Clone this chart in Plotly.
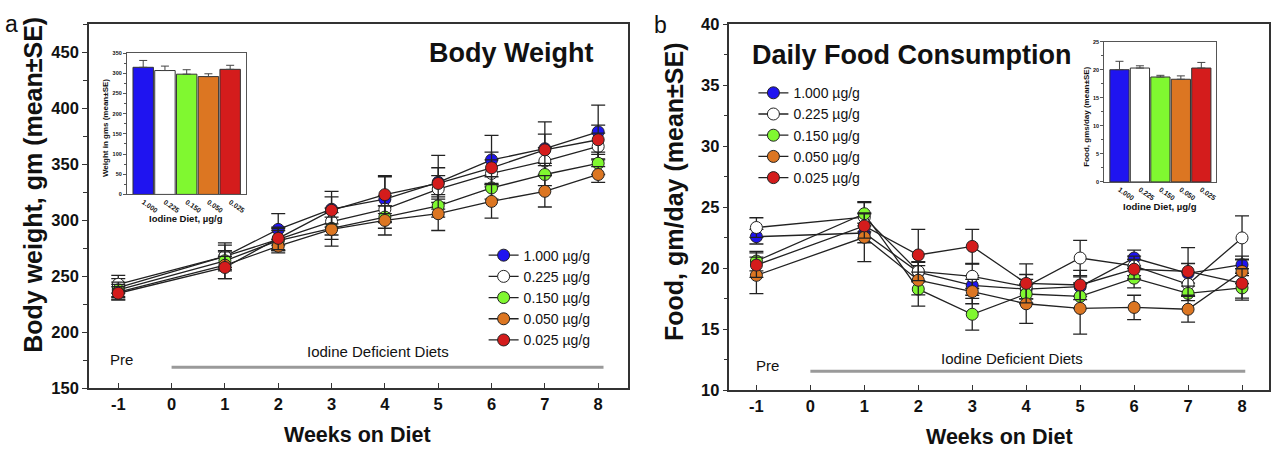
import plotly.graph_objects as go

weeks = [-1, 1, 2, 3, 4, 5, 6, 7, 8]
week_ticks = [-1, 0, 1, 2, 3, 4, 5, 6, 7, 8]
week_labels = ["-1", "0", "1", "2", "3", "4", "5", "6", "7", "8"]
doses = ["1.000 µg/g", "0.225 µg/g", "0.150 µg/g", "0.050 µg/g", "0.025 µg/g"]
dose_ticks = ["1.000", "0.225", "0.150", "0.050", "0.025"]
colors = ["#1f14f0", "#ffffff", "#80f830", "#dc7622", "#d41c1c"]

# Body weight (gm), mean and SE
bw_blue = [240, 268, 292, 310, 319, 334, 354, 364, 379]
bw_white = [243, 268, 283, 299, 310, 328, 342, 353, 366]
bw_green = [238, 264, 282, 293, 303, 313, 329, 341, 351]
bw_orange = [236, 260, 277, 292, 300, 306, 317, 326, 341]
bw_red = [235, 258, 284, 309, 323, 333, 347, 363, 372]
bw_se_blue = [8, 12, 14, 16, 20, 24, 22, 24, 24]
bw_se_white = [8, 10, 10, 12, 12, 12, 12, 12, 12]
bw_se_green = [7, 9, 9, 10, 10, 10, 10, 10, 10]
bw_se_orange = [7, 12, 6, 15, 13, 15, 15, 14, 7]
bw_se_red = [6, 10, 10, 12, 17, 14, 14, 14, 13]

# Daily food consumption (gm/day), mean and SE
fd_blue = [22.6, 22.9, 19.7, 18.6, 18.3, 18.5, 20.85, 19.6, 20.3]
fd_white = [23.35, 24.2, 19.75, 19.35, 18.5, 20.85, 20.2, 18.7, 22.5]
fd_green = [20.6, 24.48, 18.3, 16.24, 17.9, 17.7, 19.2, 17.95, 18.4]
fd_orange = [19.43, 22.55, 19.03, 18.1, 17.1, 16.72, 16.8, 16.65, 19.75]
fd_red = [20.27, 23.48, 21.1, 21.8, 18.77, 18.64, 19.93, 19.75, 18.77]
fd_se_blue = [0.6, 0.8, 0.8, 0.8, 0.8, 0.8, 0.65, 0.8, 0.7]
fd_se_white = [0.8, 1.2, 0.8, 1.0, 1.0, 1.45, 0.8, 1.0, 1.8]
fd_se_green = [0.8, 1.0, 1.4, 1.3, 0.8, 1.0, 0.8, 0.6, 1.0]
fd_se_orange = [1.5, 2.0, 1.2, 1.0, 1.6, 2.1, 1.0, 1.05, 1.0]
fd_se_red = [1.0, 1.0, 2.1, 1.4, 1.6, 1.2, 0.8, 1.95, 1.2]

# Inset bars: overall means
inset_bw = [315, 307, 298, 292, 310]
inset_bw_se = [17, 11, 11, 7, 10]
inset_fd = [20.0, 20.3, 18.7, 18.3, 20.3]
inset_fd_se = [1.5, 0.4, 0.3, 0.6, 1.0]

FONT = "Liberation Sans, Arial, sans-serif"
W, H = 1274, 458

def px(x):
    return x / W

def py(y):
    return 1 - y / H

fig = go.Figure()

bw_means = [bw_blue, bw_white, bw_green, bw_orange, bw_red]
bw_ses = [bw_se_blue, bw_se_white, bw_se_green, bw_se_orange, bw_se_red]
fd_means = [fd_blue, fd_white, fd_green, fd_orange, fd_red]
fd_ses = [fd_se_blue, fd_se_white, fd_se_green, fd_se_orange, fd_se_red]

for i in range(5):
    fig.add_trace(go.Scatter(
        x=weeks, y=bw_means[i], name=doses[i], mode="lines+markers",
        xaxis="x", yaxis="y", legend="legend",
        line=dict(color="#222222", width=1.3),
        marker=dict(size=12, color=colors[i], line=dict(color="#222222", width=1)),
        error_y=dict(type="data", array=bw_ses[i], color="#222222", thickness=1.3, width=7),
    ))
for i in range(5):
    fig.add_trace(go.Scatter(
        x=weeks, y=fd_means[i], name=doses[i], mode="lines+markers",
        xaxis="x2", yaxis="y2", legend="legend2",
        line=dict(color="#222222", width=1.3),
        marker=dict(size=12, color=colors[i], line=dict(color="#222222", width=1)),
        error_y=dict(type="data", array=fd_ses[i], color="#222222", thickness=1.3, width=7),
    ))

fig.add_trace(go.Bar(
    x=dose_ticks, y=inset_bw, xaxis="x3", yaxis="y3", showlegend=False, width=0.94,
    marker=dict(color=colors, line=dict(color="#333333", width=1)),
    error_y=dict(type="data", array=inset_bw_se, arrayminus=[0] * 5, symmetric=False,
                 color="#444444", thickness=1, width=4),
))
fig.add_trace(go.Bar(
    x=dose_ticks, y=inset_fd, xaxis="x4", yaxis="y4", showlegend=False, width=0.94,
    marker=dict(color=colors, line=dict(color="#333333", width=1)),
    error_y=dict(type="data", array=inset_fd_se, arrayminus=[0] * 5, symmetric=False,
                 color="#444444", thickness=1, width=4),
))

axcol = "#333333"
tickfont = dict(family=FONT, size=16.5, color="#111111", weight="bold")
inset_ytickfont = dict(family=FONT, size=5.5, color="#111111", weight="bold")
inset_xtickfont = dict(family=FONT, size=7, color="#111111", weight="bold")

xmain = dict(tickvals=week_ticks, ticktext=week_labels, ticks="inside", ticklen=6,
             tickcolor=axcol, showline=True, linecolor=axcol, linewidth=1.5, mirror=True,
             showgrid=False, zeroline=False, tickfont=tickfont)

fig.update_layout(
    width=W, height=H, margin=dict(l=0, r=0, t=0, b=0),
    paper_bgcolor="white", plot_bgcolor="white",
    font=dict(family=FONT, color="#111111"),
    bargap=0.05,
    xaxis=dict(xmain, domain=[px(89), px(628)], range=[-1.55, 8.55], anchor="y"),
    yaxis=dict(domain=[py(395), py(16)], range=[150, 475], tickvals=list(range(150, 451, 50)),
               ticks="outside", ticklen=5, tickcolor=axcol,
               minor=dict(tickvals=list(range(175, 476, 50)), ticks="outside", ticklen=4, tickcolor=axcol),
               showline=True, linecolor=axcol, linewidth=1.5, mirror=True,
               showgrid=False, zeroline=False, tickfont=tickfont, anchor="x"),
    yaxis5=dict(overlaying="y", side="right", anchor="x", range=[150, 475],
                tickvals=list(range(150, 451, 50)), ticks="inside", ticklen=6, tickcolor=axcol,
                showticklabels=False, showline=False, showgrid=False, zeroline=False),
    xaxis2=dict(xmain, domain=[px(730), px(1270)], range=[-1.5, 8.5], anchor="y2"),
    yaxis2=dict(domain=[py(397), py(16)], range=[10, 40], tickvals=list(range(10, 41, 5)),
                ticks="outside", ticklen=5, tickcolor=axcol,
                minor=dict(tickvals=[12.5, 17.5, 22.5, 27.5, 32.5, 37.5], ticks="outside", ticklen=4, tickcolor=axcol),
                showline=True, linecolor=axcol, linewidth=1.5, mirror=True,
                showgrid=False, zeroline=False, tickfont=tickfont, anchor="x2"),
    yaxis6=dict(overlaying="y2", side="right", anchor="x2", range=[10, 40],
                tickvals=list(range(10, 41, 5)), ticks="inside", ticklen=6, tickcolor=axcol,
                showticklabels=False, showline=False, showgrid=False, zeroline=False),
    xaxis3=dict(domain=[px(127), px(246)], range=[-0.75, 4.72], anchor="y3", type="category",
                ticks="", showline=True, linecolor="#555555", linewidth=1, mirror=True,
                tickangle=35, tickfont=inset_xtickfont, showgrid=False, zeroline=False),
    yaxis3=dict(domain=[py(193), py(46)], range=[0, 350], dtick=50, anchor="x3",
                ticks="outside", ticklen=3, tickcolor="#555555",
                minor=dict(dtick=25, ticks="outside", ticklen=2, tickcolor="#555555"),
                showline=True, linecolor="#555555", linewidth=1, mirror=True,
                tickfont=inset_ytickfont, showgrid=False, zeroline=False),
    xaxis4=dict(domain=[px(1105), px(1217)], range=[-0.75, 4.72], anchor="y4", type="category",
                ticks="", showline=True, linecolor="#555555", linewidth=1, mirror=True,
                tickangle=35, tickfont=inset_xtickfont, showgrid=False, zeroline=False),
    yaxis4=dict(domain=[py(180), py(34)], range=[0, 25], dtick=5, anchor="x4",
                ticks="outside", ticklen=3, tickcolor="#555555",
                minor=dict(dtick=2.5, ticks="outside", ticklen=2, tickcolor="#555555"),
                showline=True, linecolor="#555555", linewidth=1, mirror=True,
                tickfont=inset_ytickfont, showgrid=False, zeroline=False),
    legend=dict(x=px(484), y=py(240), xanchor="left", yanchor="top", bgcolor="rgba(0,0,0,0)",
                font=dict(family=FONT, size=14, color="#111111"), tracegroupgap=0),
    legend2=dict(x=px(754), y=py(71), xanchor="left", yanchor="top", bgcolor="rgba(0,0,0,0)",
                 font=dict(family=FONT, size=14, color="#111111"), tracegroupgap=0),
)

ann = []
def A(text, x, y, size, bold=False, xref="paper", yref="paper", angle=0, xanchor="center"):
    ann.append(dict(text=text, x=x, y=y, xref=xref, yref=yref, showarrow=False,
                    textangle=angle, xanchor=xanchor, yanchor="middle",
                    font=dict(family=FONT, size=size, color="#111111",
                              weight="bold" if bold else "normal")))

A("a", px(12), py(16), 23)
A("b", px(661), py(17), 23)
A("Body Weight", px(512), py(46), 27, True)
A("Daily Food Consumption", px(912), py(48), 27, True)
A("Body weight, gm (mean±SE)", px(33), py(183), 25, True, angle=-90)
A("Food, gm/day (mean±SE)", px(674), py(190), 25, True, angle=-90)
A("Weeks on Diet", px(358), py(443), 21.5, True)
A("Weeks on Diet", px(1000), py(445), 21.5, True)
A("Pre", -0.94, 175.7, 15, xref="x", yref="y")
A("Iodine Deficient Diets", 3.87, 182.8, 15, xref="x", yref="y")
A("Pre", -0.8, 12.0, 15, xref="x2", yref="y2")
A("Iodine Deficient Diets", 3.73, 12.64, 15, xref="x2", yref="y2")
A("Weight in gms (mean±SE)", px(105), py(124), 8, True, angle=-90)
A("Iodine Diet, µg/g", px(186), py(218), 9.5, True)
A("Food, gms/day (mean±SE)", px(1087), py(112), 8, True, angle=-90)
A("Iodine Diet, µg/g", px(1161), py(206), 9.5, True)
fig.update_layout(annotations=ann)

fig.add_shape(type="line", x0=0, x1=8.1, y0=168.9, y1=168.9, xref="x", yref="y",
              line=dict(color="#9a9a9a", width=3))
fig.add_shape(type="line", x0=0, x1=8.06, y0=11.56, y1=11.56, xref="x2", yref="y2",
              line=dict(color="#9a9a9a", width=3))

fig.write_html("out.html")
